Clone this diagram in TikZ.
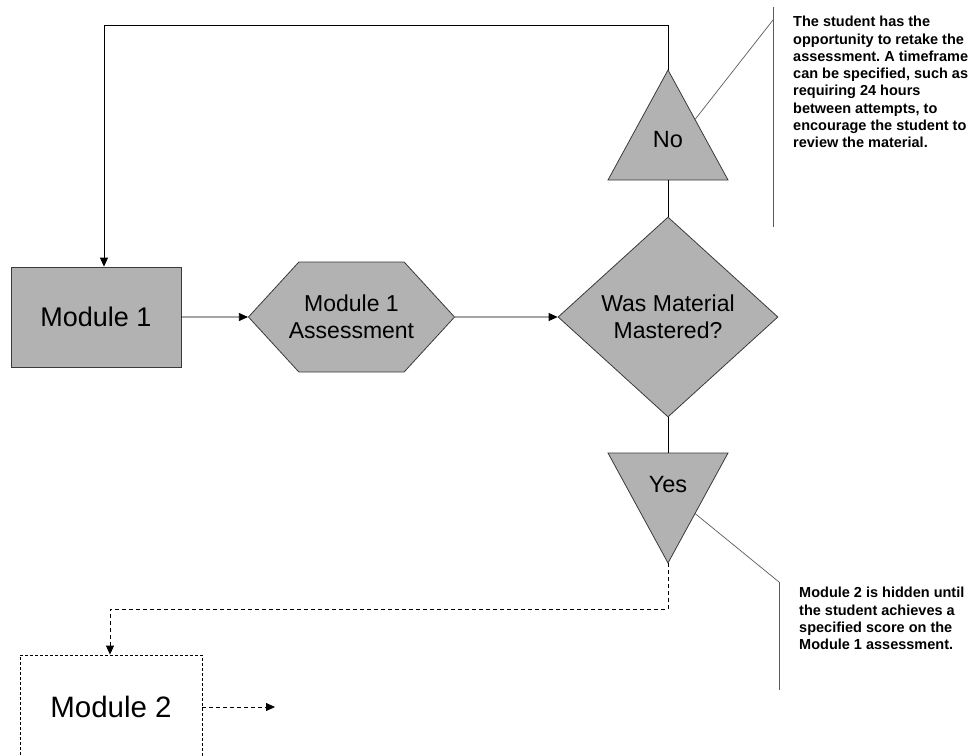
\documentclass[tikz,border=0pt]{standalone}
\usepackage{fontspec}
\setmainfont{Liberation Sans}
\usepackage{xcolor}
\usetikzlibrary{
    shapes.geometric,
    shapes.symbols,
    arrows.meta,
    positioning,
    calc
}
\definecolor{shapefill}{HTML}{B2B2B2}
\definecolor{shapeline}{HTML}{3A3A3A}
\definecolor{noteline}{HTML}{5A5A5A}
\tikzset{
    % Module box style
    module/.style={
        rectangle,
        minimum width=170pt,
        minimum height=100pt,
        align=center,
        font=\fontsize{27}{32}\selectfont,
        draw=shapeline,
        fill=shapefill,
        line width=0.8pt
    },
    % Hidden module style
    hiddenmodule/.style={
        module,
        minimum width=182pt,
        minimum height=104pt,
        font=\fontsize{29.5}{34}\selectfont,
        fill=none,
        draw=black,
        dash pattern=on 3pt off 2pt
    },
    % Assessment hexagon style
    assessment/.style={
        signal,
        signal to=east and west,
        signal pointer angle=95,
        minimum width=203pt,
        minimum height=110pt,
        inner xsep=-10pt,
        inner ysep=0pt,
        align=center,
        font=\fontsize{23}{27}\selectfont,
        draw=shapeline,
        fill=shapefill,
        line width=0.8pt
    },
    % Decision style
    decision/.style={
        diamond,
        aspect=1.1,
        minimum width=220pt,
        minimum height=200pt,
        inner sep=0pt,
        align=center,
        font=\fontsize{23}{27}\selectfont,
        draw=shapeline,
        fill=shapefill,
        line width=0.8pt
    },
    % Outcome triangle style
    outcome/.style={
        draw=shapeline,
        fill=shapefill,
        line width=0.8pt
    },
    outcome text/.style={
        inner sep=0pt,
        font=\fontsize{23.5}{27}\selectfont
    },
    % Arrow styles
    flow/.style={
        -{Triangle[length=9pt, width=8pt]},
        line width=0.8pt,
        black
    },
    dataflow/.style={
        flow,
        dash pattern=on 4pt off 3pt
    },
    link/.style={
        line width=0.8pt,
        black
    },
    % Note styles
    note/.style={
        align=left,
        inner sep=0pt,
        font=\fontsize{14.5}{17.3}\selectfont\bfseries\frenchspacing
    },
    callout/.style={
        draw=noteline,
        line width=0.7pt
    }
}

\begin{document}
\begin{tikzpicture}[x=1pt, y=-1pt]
        \useasboundingbox (0, 0) rectangle (979, 755);

        % Main flow
        \node[module] (mod1) at (96, 317) {Module 1};
        \node[assessment] (assess) at (351.5, 317) {Module 1\\Assessment};
        \node[decision] (mastered) at (668, 317) {Was Material\\Mastered?};

        \draw[flow] (mod1) -- (assess);
        \draw[flow] (assess) -- (mastered);

        % Outcomes
        \coordinate (noapex) at (668, 70);
        \coordinate (nobase) at (668, 180);
        \draw[outcome] (noapex) -- (728, 180) -- (608, 180) -- cycle;
        \node[outcome text] (no) at (668, 140) {No};

        \coordinate (yesapex) at (668, 563);
        \coordinate (yesbase) at (668, 453);
        \draw[outcome] (yesapex) -- (728, 453) -- (608, 453) -- cycle;
        \node[outcome text] (yes) at (668, 485) {Yes};

        \draw[link] (mastered.north) -- (nobase);
        \draw[link] (mastered.south) -- (yesbase);

        % Retake loop
        \coordinate (loop) at (104, 25);
        \draw[flow] (noapex) |- (loop) -- (loop |- mod1.north);

        % Next module
        \node[hiddenmodule] (mod2) at (111, 707) {Module 2};
        \coordinate (drop) at (110, 609);
        \coordinate (next) at (275, 707);
        \draw[dataflow] (yesapex) |- (drop) -- (drop |- mod2.north);
        \draw[dataflow] (mod2) -- (next);

        % Notes
        \node[note, anchor=north west] (retake) at (793, 16) {The student has the\\opportunity to retake the\\assessment. A timeframe\\can be specified, such as\\requiring 24 hours\\between attempts, to\\encourage the student to\\review the material.};
        \coordinate (retakebar) at (773, 20);
        \draw[callout] (773, 7) -- (773, 227);
        \draw[callout] ($(noapex)!0.45!(728, 180)$) -- (retakebar);

        \node[note, anchor=north west] (unlock) at (799, 587) {Module 2 is hidden until\\the student achieves a\\specified score on the\\Module 1 assessment.};
        \coordinate (unlockbar) at (779, 582);
        \draw[callout] (unlockbar) -- (779, 690);
        \draw[callout] ($(yesapex)!0.45!(728, 453)$) -- (unlockbar);

    \end{tikzpicture}
\end{document}
